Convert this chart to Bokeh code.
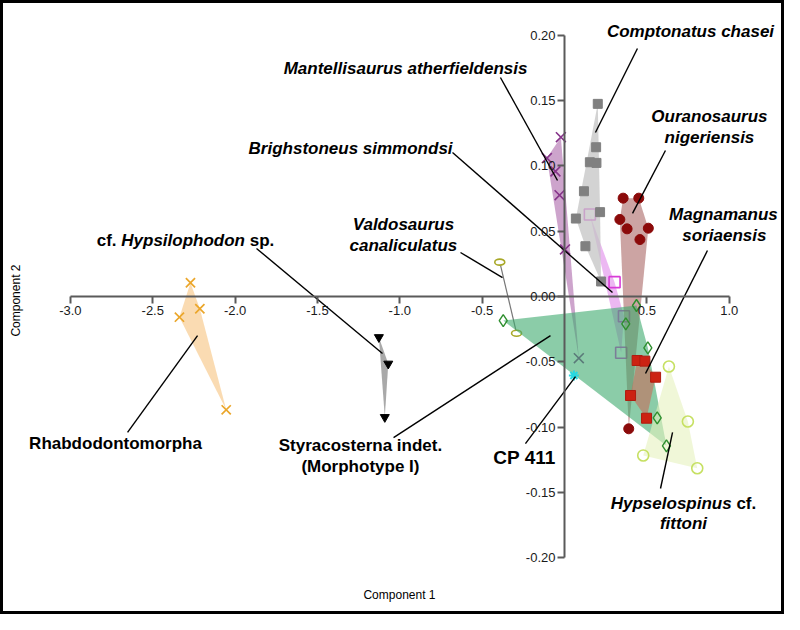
import math
from bokeh.plotting import figure
from bokeh.models import FixedTicker, PrintfTickFormatter
from bokeh.core.properties import value
from bokeh.embed import file_html
from bokeh.resources import INLINE

# ---------------- data: PCA scores ----------------
rhabdo_x = [-2.271, -2.214, -2.338, -2.054]
rhabdo_y = [0.0105, -0.0094, -0.0158, -0.0868]

hypsi_x = [-1.127, -1.070, -1.091]
hypsi_y = [-0.0312, -0.0515, -0.0924]

valdo_x = [-0.393, -0.291]
valdo_y = [0.0263, -0.0281]

mantell_x = [-0.022, -0.107, -0.055, -0.030, 0.003, 0.087]
mantell_y = [0.1220, 0.1060, 0.0958, 0.0776, 0.0360, -0.0472]

bright_x = [0.154, 0.304, 0.361, 0.344]
bright_y = [0.0628, 0.0110, -0.0151, -0.0431]

compt_x = [0.202, 0.192, 0.154, 0.194, 0.118, 0.216, 0.069, 0.127, 0.222]
compt_y = [0.1475, 0.1143, 0.1028, 0.1023, 0.0806, 0.0646, 0.0597, 0.0385, 0.0115]

ourano_x = [0.356, 0.451, 0.336, 0.380, 0.509, 0.458, 0.390]
ourano_y = [0.0753, 0.0753, 0.0590, 0.0518, 0.0523, 0.0436, -0.1013]

magna_x = [0.441, 0.488, 0.553, 0.401, 0.498]
magna_y = [-0.0490, -0.0495, -0.0618, -0.0758, -0.0932]

hypsel_x = [0.634, 0.749, 0.478, 0.806]
hypsel_y = [-0.0536, -0.0957, -0.1217, -0.1315]

styra_x = [-0.372, 0.437, 0.372, 0.506, 0.563, 0.619]
styra_y = [-0.0184, -0.0069, -0.0209, -0.0393, -0.0929, -0.1143]

cp411_x = [0.057]
cp411_y = [-0.0605]

x_ticks = [-3.0, -2.5, -2.0, -1.5, -1.0, -0.5, 0.5, 1.0]
y_ticks = [-0.20, -0.15, -0.10, -0.05, 0.00, 0.05, 0.10, 0.15, 0.20]

# ---------------- layout ----------------
FONT = "Liberation Sans"
W, H = 784, 614
PX_X, PX_Y = 164.7, 1306.0
OX, OY = 564.0, 296.0
x_range = (-OX / PX_X, (W - OX) / PX_X)
y_range = ((OY - H) / PX_Y, OY / PX_Y)

p = figure(width=W, height=H, x_range=x_range, y_range=y_range,
           output_backend="svg", toolbar_location=None, min_border=0)
p.grid.visible = False
p.outline_line_color = "black"
p.outline_line_width = 5
p.background_fill_color = "white"
p.border_fill_color = "white"

for ax, ticks, fmt, bnd in ((p.xaxis, x_ticks, "%.1f", (-3.0, 1.0)),
                            (p.yaxis, y_ticks, "%.2f", (-0.2, 0.2))):
    ax.fixed_location = 0
    ax.ticker = FixedTicker(ticks=ticks)
    ax.formatter = PrintfTickFormatter(format=fmt)
    ax.bounds = bnd
    ax.axis_line_color = "#5a5a5a"
    ax.axis_line_width = 2
    ax.major_tick_line_color = "#5a5a5a"
    ax.major_tick_line_width = 2
    ax.major_tick_out = 7
    ax.major_tick_in = 0
    ax.minor_tick_line_color = None
    ax.major_label_text_font = FONT
    ax.major_label_text_font_size = "13px"
    ax.major_label_text_color = "#1a1a1a"
    ax.major_label_standoff = 2


def hull(xs, ys):
    pts = sorted(set(zip(xs, ys)))
    if len(pts) < 3:
        return [q[0] for q in pts], [q[1] for q in pts]

    def cross(o, a, b):
        return (a[0] - o[0]) * (b[1] - o[1]) - (a[1] - o[1]) * (b[0] - o[0])
    lower, upper = [], []
    for q in pts:
        while len(lower) >= 2 and cross(lower[-2], lower[-1], q) <= 0:
            lower.pop()
        lower.append(q)
    for q in reversed(pts):
        while len(upper) >= 2 and cross(upper[-2], upper[-1], q) <= 0:
            upper.pop()
        upper.append(q)
    h = lower[:-1] + upper[:-1]
    return [q[0] for q in h], [q[1] for q in h]


def draw_hull(xs, ys, color, alpha):
    hx, hy = hull(xs, ys)
    p.patch(hx, hy, fill_color=color, fill_alpha=alpha, line_color=None)


# Rhabdodontomorpha
draw_hull(rhabdo_x, rhabdo_y, "#F8C888", 0.65)
p.scatter(rhabdo_x, rhabdo_y, marker="x", size=13, line_color="#EBA62A", line_width=1.7)
# cf. Hypsilophodon
draw_hull(hypsi_x, hypsi_y, "#A0A0A0", 0.9)
p.scatter(hypsi_x, hypsi_y, marker="inverted_triangle", size=9, fill_color="black", line_color="black")
# Valdosaurus
p.line(valdo_x, valdo_y, line_color="#777777", line_width=1.2)
p.ellipse(valdo_x, valdo_y, width=10, height=6, width_units="screen", height_units="screen",
          fill_color="white", line_color="#A8A828", line_width=1.6)
# Mantellisaurus
draw_hull(mantell_x, mantell_y, "#A45AA2", 0.55)
p.scatter(mantell_x, mantell_y, marker="x", size=14, line_color="#86348A", line_width=1.6)
# Brighstoneus
draw_hull(bright_x, bright_y, "#E6A0EE", 0.75)
p.scatter(bright_x, bright_y, marker="square", size=11, fill_color=None, line_color="#D83CD8", line_width=1.6)
# Comptonatus
draw_hull(compt_x, compt_y, "#C4C4C4", 0.75)
p.scatter(compt_x, compt_y, marker="square", size=9, fill_color="#808080", line_color="#808080")
# Ouranosaurus
draw_hull(ourano_x, ourano_y, "#A25A58", 0.55)
p.scatter(ourano_x, ourano_y, marker="circle", size=10, fill_color="#8B0A0A", line_color="#8B0A0A")
# Styracosterna hull (over the earlier groups)
draw_hull(styra_x, styra_y, "#3DAA6E", 0.6)
# Magnamanus
draw_hull(magna_x, magna_y, "#C86A5A", 0.6)
p.scatter(magna_x, magna_y, marker="square", size=10, fill_color="#CC2212", line_color="#B01C10")
# Hypselospinus
draw_hull(hypsel_x, hypsel_y, "#E6F2BE", 0.6)
p.scatter(hypsel_x, hypsel_y, marker="circle", size=11, fill_color=None, line_color="#C6E062", line_width=1.6)
# Styracosterna markers
p.scatter(styra_x, styra_y, marker="diamond", size=12, fill_color=None, line_color="#2E8F2E", line_width=1.4)
# CP 411
p.scatter(cp411_x, cp411_y, marker="asterisk", size=10, line_color="#28D8E0", line_width=2)

# ---------------- leader lines ----------------
leaders = [
    ((0.443, 0.1899), (0.188, 0.1256)),
    ((-0.389, 0.1677), (-0.0425, 0.0888)),
    ((0.613, 0.1118), (0.413, 0.0636)),
    ((0.868, 0.0352), (0.492, -0.0590)),
    ((-0.680, 0.1103), (0.2914, 0.0031)),
    ((-0.6315, 0.0337), (-0.3764, 0.0145)),
    ((-1.870, 0.0368), (-1.105, -0.0436)),
    ((-2.653, -0.1041), (-2.228, -0.0299)),
    ((-1.038, -0.1080), (-0.085, -0.0299)),
    ((-0.237, -0.1126), (0.0668, -0.0613)),
    ((0.583, -0.1470), (0.656, -0.1041)),
]
p.segment(x0=[a[0][0] for a in leaders], y0=[a[0][1] for a in leaders],
          x1=[a[1][0] for a in leaders], y1=[a[1][1] for a in leaders],
          line_color="black", line_width=1.4)

# ---------------- labels ----------------
def label(x, y, txt, style="bold italic", size="17px", angle=0.0, align="center"):
    p.text([x], [y], text=[txt], text_font=value(FONT), text_font_style=style,
           text_font_size=size, text_align=align, text_baseline="middle",
           text_color="black", angle=angle)

label(0.765, 0.2029, "Comptonatus chasei")
label(-0.965, 0.1746, "Mantellisaurus atherfieldensis")
label(0.880, 0.1378, "Ouranosaurus")
label(0.880, 0.1217, "nigeriensis")
label(0.965, 0.0628, "Magnamanus")
label(0.971, 0.0467, "soriaensis")
label(-1.299, 0.1133, "Brighstoneus simmondsi")
label(-0.978, 0.0551, "Valdosaurus")
label(-0.978, 0.0391, "canaliculatus")
label(-2.726, -0.1126, "Rhabdodontomorpha", style="bold")
label(-1.239, -0.1141, "Styracosterna indet.", style="bold")
label(-1.239, -0.1302, "(Morphotype I)", style="bold")
label(-0.243, -0.1233, "CP 411", style="bold", size="19px")
label(0.7225, -0.1738, "fittoni")
label(-1.002, -0.2289, "Component 1", style="normal", size="12px")
label(-3.333, -0.0031, "Component 2", style="normal", size="12px", angle=math.pi / 2)

# mixed-style labels (upright "cf." / "sp.")
AW = {" ": 278, ".": 278, "H": 722, "a": 556, "c": 556, "d": 611, "e": 556, "f": 333,
      "h": 611, "i": 278, "l": 278, "n": 611, "o": 611, "p": 611, "s": 556, "u": 611, "y": 556}


def tw(s, px=17):
    return sum(AW.get(ch, 556) for ch in s) * px / 1000.0


def mixed(x, y, pieces):
    total = sum(tw(t) for t, _ in pieces)
    off = -total / 2.0
    for t, st in pieces:
        lead = len(t) - len(t.lstrip(" "))
        core = t.strip(" ")
        p.text([x], [y], text=[core], text_font=value(FONT), text_font_style=st,
               text_font_size="17px", text_align="left", text_baseline="middle",
               text_color="black", x_offset=off + tw(" " * lead))
        off += tw(t)


mixed(-2.301, 0.0429, [("cf. ", "bold"), ("Hypsilophodon", "bold italic"), (" sp.", "bold")])
mixed(0.7225, -0.1585, [("Hypselospinus", "bold italic"), (" cf.", "bold")])

open("out.html", "w").write(file_html(p, INLINE))
